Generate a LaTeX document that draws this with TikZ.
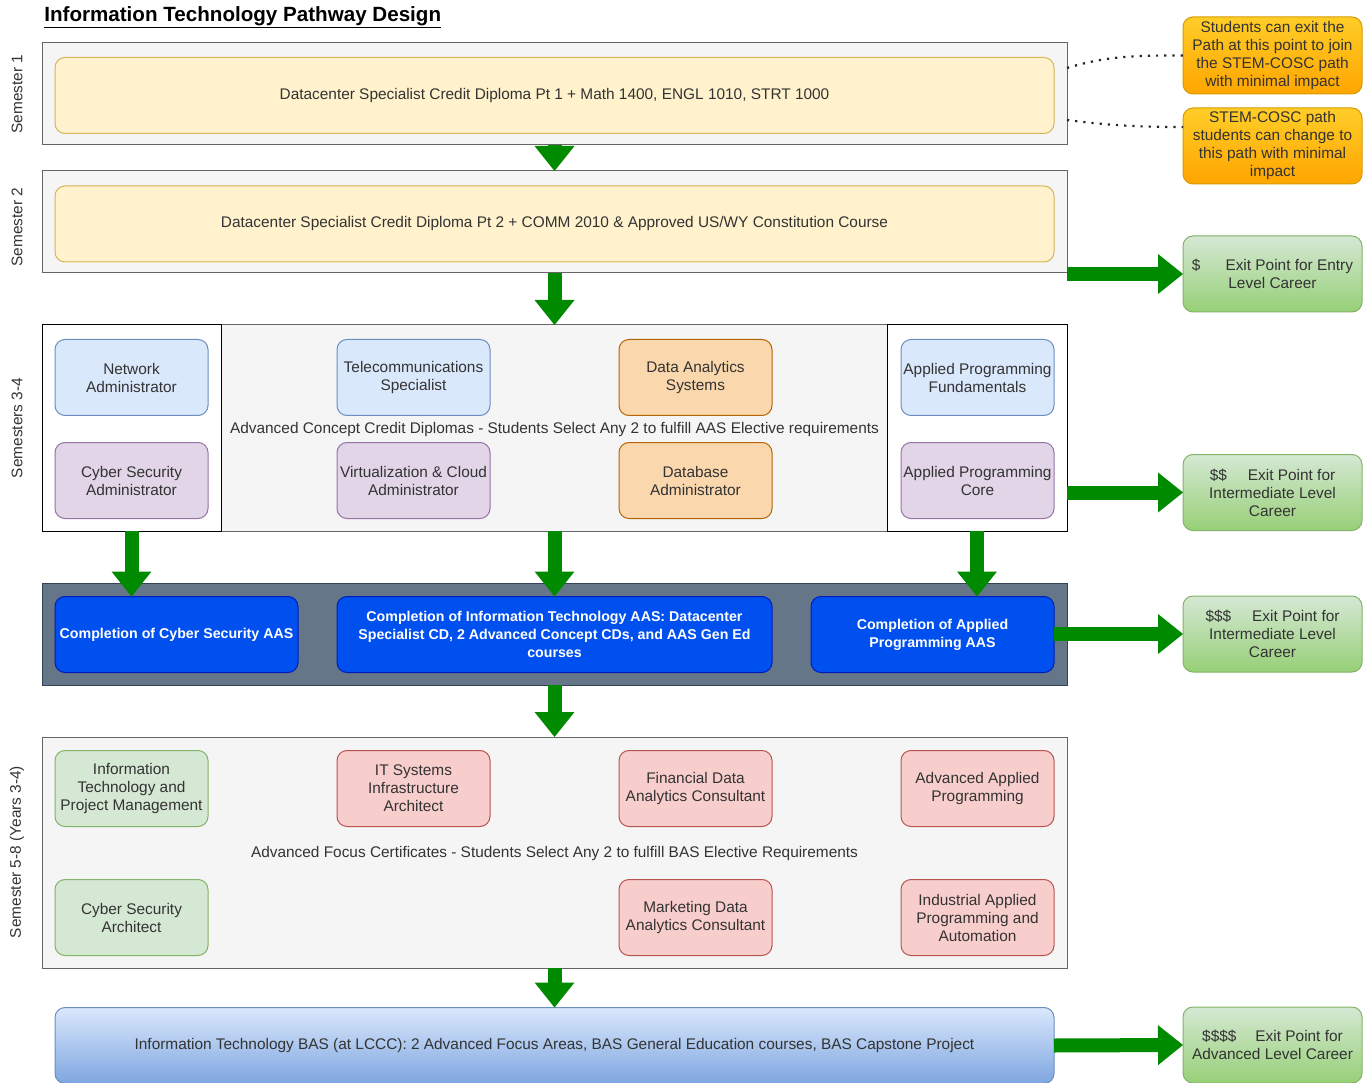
\documentclass[tikz,border=0pt]{standalone}
\usepackage{fontspec}
\setmainfont{Liberation Sans}
\usetikzlibrary{arrows.meta, calc}

\definecolor{txtgray}{HTML}{333333}
\definecolor{lanefill}{HTML}{F5F5F5}
\definecolor{lanedraw}{HTML}{666666}
\definecolor{yelfill}{HTML}{FFF2CC}
\definecolor{yeldraw}{HTML}{D6B656}
\definecolor{bluefill}{HTML}{DAE8FC}
\definecolor{bluedraw}{HTML}{6C8EBF}
\definecolor{purpfill}{HTML}{E1D5E7}
\definecolor{purpdraw}{HTML}{9673A6}
\definecolor{orgfill}{HTML}{FAD7AC}
\definecolor{orgdraw}{HTML}{B46504}
\definecolor{grnfill}{HTML}{D5E8D4}
\definecolor{grndraw}{HTML}{82B366}
\definecolor{grnlow}{HTML}{97D077}
\definecolor{redfill}{HTML}{F8CECC}
\definecolor{reddraw}{HTML}{B85450}
\definecolor{slatefill}{HTML}{647687}
\definecolor{slatedraw}{HTML}{314354}
\definecolor{aasfill}{HTML}{0050EF}
\definecolor{aasdraw}{HTML}{001DBC}
\definecolor{baslow}{HTML}{7EA6E0}
\definecolor{notetop}{HTML}{FFCD28}
\definecolor{notelow}{HTML}{FFA500}
\definecolor{notedraw}{HTML}{D79B00}
\definecolor{flowgreen}{HTML}{008A00}

\begin{document}
\begin{tikzpicture}[x=1pt, y=-1pt,
  every node/.style={font=\fontsize{15.4}{18}\selectfont, text=txtgray, align=center, outer sep=0pt},
  lane/.style={draw=lanedraw, fill=lanefill, line width=1pt, minimum width=1025pt, inner sep=0pt},
  card/.style={rounded corners=10pt, line width=1pt, minimum width=153pt, minimum height=76pt, inner sep=1pt},
  bluecard/.style={card, draw=bluedraw, fill=bluefill},
  purpcard/.style={card, draw=purpdraw, fill=purpfill},
  orgcard/.style={card, draw=orgdraw, fill=orgfill},
  grncard/.style={card, draw=grndraw, fill=grnfill},
  redcard/.style={card, draw=reddraw, fill=redfill},
  wide/.style={rounded corners=10pt, line width=1pt, minimum width=999pt, minimum height=76pt},
  aas/.style={rounded corners=10pt, line width=1pt, draw=aasdraw, fill=aasfill, text=white, minimum height=76pt, inner sep=1pt, font=\bfseries\fontsize{14.2}{18}\selectfont},
  exitbox/.style={rounded corners=10pt, line width=1pt, draw=grndraw, top color=grnfill, bottom color=grnlow, minimum width=179pt, minimum height=76pt, inner sep=1pt},
  notebox/.style={rounded corners=10pt, line width=1pt, draw=notedraw, top color=notetop, bottom color=notelow, minimum width=179pt, minimum height=76pt, inner sep=1pt},
  flow/.style={draw=flowgreen, line width=14pt, -{Triangle[length=25pt, width=40pt, line width=0pt, fill=flowgreen]}},
  link/.style={draw=black!85, line width=2.2pt, dash pattern=on 2.2pt off 6pt}
]
  \useasboundingbox (0,0) rectangle (1369,1083);

  % Title
  \node[anchor=west, text=black, font=\bfseries\fontsize{20.6}{24}\selectfont] (title) at (41,17)
    {\underline{Information Technology Pathway Design}};

  % Semester labels
  \node[rotate=90] (lab1) at (17,94) {Semester 1};
  \node[rotate=90] (lab2) at (17,227) {Semester 2};
  \node[rotate=90] (lab34) at (17,428) {Semesters 3-4};
  \node[rotate=90] (lab58) at (17,852) {Semester 5-8 (Years 3-4)};

  % Semester 1
  \node[lane, minimum height=102pt] (sem1) at (554.5,94) {};
  \node[wide, draw=yeldraw, fill=yelfill] (dip1) at (554.5,95.5)
    {Datacenter Specialist Credit Diploma Pt 1 + Math 1400, ENGL 1010, STRT 1000};

  % Semester 2
  \node[lane, minimum height=102pt] (sem2) at (554.5,222) {};
  \node[wide, draw=yeldraw, fill=yelfill] (dip2) at (554.5,224)
    {Datacenter Specialist Credit Diploma Pt 2 + COMM 2010 \& Approved US/WY Constitution Course};

  % Semesters 3-4
  \node[lane, minimum height=206pt] (sem34) at (554.5,428) {};
  \node[draw=black, fill=white, line width=1pt, minimum width=179pt, minimum height=206pt] (lwhite) at (131.5,428) {};
  \node[draw=black, fill=white, line width=1pt, minimum width=180pt, minimum height=206pt] (rwhite) at (977,428) {};
  \node (cdlabel) at (554.5,429.5)
    {Advanced Concept Credit Diplomas - Students Select Any 2 to fulfill AAS Elective requirements};
  \node[bluecard] (netadm) at (131.5,377.5) {Network\\Administrator};
  \node[purpcard] (cybadm) at (131.5,480.5) {Cyber Security\\Administrator};
  \node[bluecard] (telspec) at (413.5,377.5) {Telecommunications\\Specialist};
  \node[purpcard] (virtadm) at (413.5,480.5) {Virtualization \& Cloud\\Administrator};
  \node[orgcard] (dasys) at (695.5,377.5) {Data Analytics\\Systems};
  \node[orgcard] (dbadm) at (695.5,480.5) {Database\\Administrator};
  \node[bluecard] (apfund) at (977.5,377.5) {Applied Programming\\Fundamentals};
  \node[purpcard] (apcore) at (977.5,480.5) {Applied Programming\\Core};

  % AAS completion
  \node[lane, draw=slatedraw, fill=slatefill, minimum height=102pt] (compl) at (554.5,634) {};
  \node[aas, minimum width=243pt] (cyaas) at (176.5,634.5) {Completion of Cyber Security AAS};
  \node[aas, minimum width=435pt] (itaas) at (554.5,634.5)
    {Completion of Information Technology AAS: Datacenter\\Specialist CD, 2 Advanced Concept CDs, and AAS Gen Ed\\courses};
  \node[aas, minimum width=243pt] (apaas) at (932.5,634.5) {Completion of Applied\\Programming AAS};

  % Semester 5-8
  \node[lane, minimum height=231pt] (sem58) at (554.5,852.5) {};
  \node (fclabel) at (554.5,853.5)
    {Advanced Focus Certificates - Students Select Any 2 to fulfill BAS Elective Requirements};
  \node[grncard] (itpm) at (131.5,788.5) {Information\\Technology and\\Project Management};
  \node[grncard] (cybarch) at (131.5,917.5) {Cyber Security\\Architect};
  \node[redcard] (itsys) at (413.5,788.5) {IT Systems\\Infrastructure\\Architect};
  \node[redcard] (findata) at (695.5,788.5) {Financial Data\\Analytics Consultant};
  \node[redcard] (mktdata) at (695.5,917.5) {Marketing Data\\Analytics Consultant};
  \node[redcard] (advap) at (977.5,788.5) {Advanced Applied\\Programming};
  \node[redcard] (indap) at (977.5,917.5) {Industrial Applied\\Programming and\\Automation};

  % BAS
  \node[wide, draw=bluedraw, top color=bluefill, bottom color=baslow] (bas) at (554.5,1045.5)
    {Information Technology BAS (at LCCC): 2 Advanced Focus Areas, BAS General Education courses, BAS Capstone Project};

  % Notes
  \node[notebox, minimum height=77pt] (note1) at (1272.5,55.5)
    {Students can exit the\\Path at this point to join\\the STEM-COSC path\\with minimal impact};
  \node[notebox] (note2) at (1272.5,146)
    {STEM-COSC path\\students can change to\\this path with minimal\\impact};

  % Exit points
  \node[exitbox] (exit1) at (1272.5,274) {\$\hspace{25pt}Exit Point for Entry\\Level Career};
  \node[exitbox] (exit2) at (1272.5,492.5) {\$\$\hspace{21pt}Exit Point for\\Intermediate Level\\Career};
  \node[exitbox] (exit3) at (1272.5,634) {\$\$\$\hspace{21pt}Exit Point for\\Intermediate Level\\Career};
  \node[exitbox] (exit4) at (1272.5,1045) {\$\$\$\$\hspace{19pt}Exit Point for\\Advanced Level Career};

  % Dotted links
  \coordinate (d1) at ($(sem1.north east)+(0,25)$);
  \coordinate (d2) at ($(sem1.north east)+(0,77)$);
  \coordinate (n2) at ($(note2.north west)+(0,19)$);
  \draw[link] (d1) .. controls +(40,-12) and +(-50,0) .. (note1.west);
  \draw[link] (d2) .. controls +(40,5) and +(-50,0) .. (n2);

  % Flow arrows down
  \draw[flow] (sem1.south) -- (sem2.north);
  \draw[flow] (sem2.south) -- (sem34.north);
  \draw[flow] (lwhite.south) -- (lwhite.south |- cyaas.north);
  \draw[flow] (sem34.south) -- (itaas.north);
  \draw[flow] (rwhite.south) -- (rwhite.south |- apaas.north);
  \draw[flow] (compl.south) -- (sem58.north);
  \draw[flow] (sem58.south) -- (bas.north);

  % Flow arrows to exits
  \draw[flow] (exit1.west -| sem2.east) -- (exit1.west);
  \draw[flow] (exit2.west -| sem34.east) -- (exit2.west);
  \draw[flow] (exit3.west -| apaas.east) -- (exit3.west);
  \draw[flow] (bas.east) -- (exit4.west);
\end{tikzpicture}
\end{document}
